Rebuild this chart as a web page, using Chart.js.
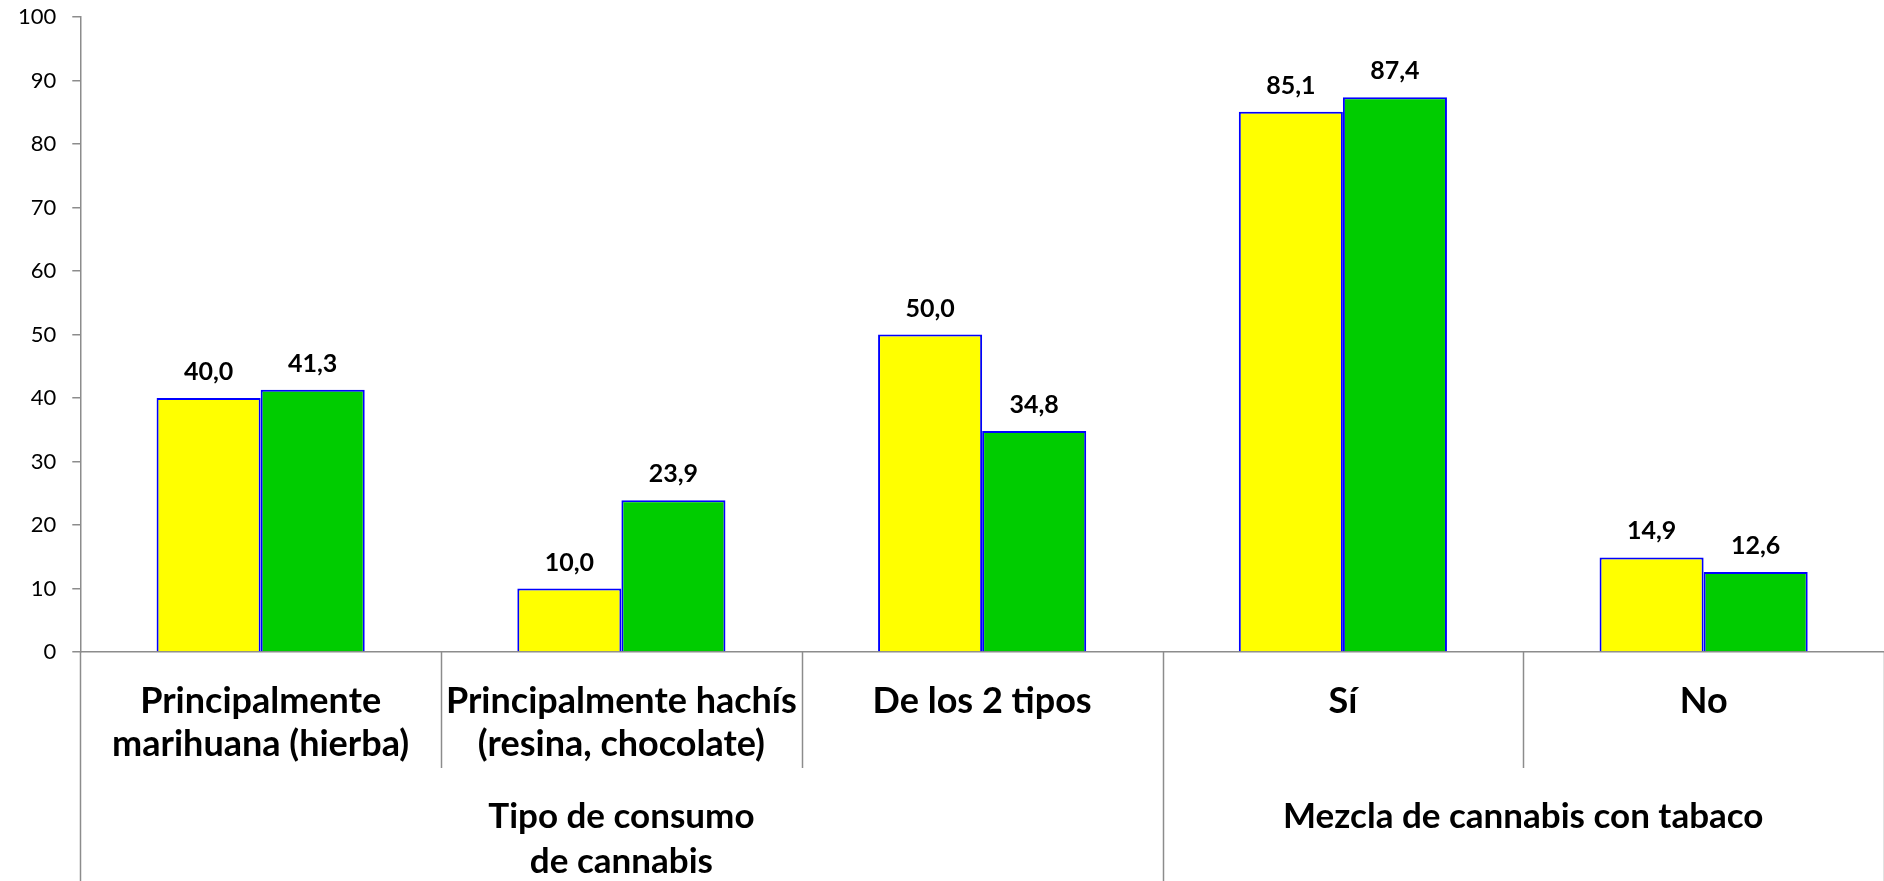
<!DOCTYPE html>
<html>
<head>
<meta charset="utf-8">
<script src="https://cdn.jsdelivr.net/npm/chart.js@4"></script>
<style>
  html, body { margin: 0; padding: 0; background: #fff; overflow: hidden; }
  #wrap { width: 1884px; height: 893px; position: relative; margin-top: -12px; }
</style>
</head>
<body>
<div id="wrap"><canvas id="chart"></canvas></div>
<script>
// Data
const categories = [
    ['Principalmente', 'marihuana (hierba)'],
    ['Principalmente hachís', '(resina, chocolate)'],
    ['De los 2 tipos'],
    ['Sí'],
    ['No']
];
const groups = [
    { label: ['Tipo de consumo', 'de cannabis'], from: 0, to: 2 },
    { label: ['Mezcla de cannabis con tabaco'], from: 3, to: 4 }
];
const seriesA = [40.0, 10.0, 50.0, 85.1, 14.9];
const seriesB = [41.3, 23.9, 34.8, 87.4, 12.6];
const yTicks = [0, 10, 20, 30, 40, 50, 60, 70, 80, 90, 100];

const FONT = 'Lato, "Open Sans", sans-serif';
const AXIS_GREY = '#8c8c8c';

// Value labels, category labels and the two-level separators
const hierarchyPlugin = {
    id: 'hierarchy',
    afterDatasetsDraw(chart) {
        const ctx = chart.ctx;
        ctx.save();
        ctx.fillStyle = '#000';
        ctx.textAlign = 'center';
        ctx.textBaseline = 'middle';
        ctx.font = 'bold 25px ' + FONT;
        chart.data.datasets.forEach((ds, di) => {
            const meta = chart.getDatasetMeta(di);
            meta.data.forEach((bar, i) => {
                ctx.fillText(ds.data[i].toFixed(1).replace('.', ','), bar.x, bar.y - 26);
            });
        });
        ctx.restore();
    },
    afterDraw(chart) {
        const ctx = chart.ctx;
        const x = chart.scales.x;
        const area = chart.chartArea;
        const n = categories.length;
        const step = (x.right - x.left) / n;
        const edge = i => x.getPixelForValue(i) - step / 2;
        const bottom = chart.height;
        const midLine = area.bottom + 116;

        ctx.save();
        ctx.strokeStyle = AXIS_GREY;
        ctx.lineWidth = 1.5;
        // separators between categories
        for (let i = 0; i <= n; i++) {
            const px = Math.round(edge(i)) + 0.5;
            const isGroupEdge = groups.some(g => g.from === i) || i === n;
            ctx.beginPath();
            ctx.moveTo(px, area.bottom);
            ctx.lineTo(px, isGroupEdge ? bottom : midLine);
            ctx.stroke();
        }

        // category labels
        ctx.fillStyle = '#000';
        ctx.textAlign = 'center';
        ctx.textBaseline = 'middle';
        ctx.font = 'bold 36px ' + FONT;
        categories.forEach((lines, i) => {
            const cx = x.getPixelForValue(i);
            lines.forEach((t, j) => ctx.fillText(t, cx, area.bottom + 49 + j * 43));
        });

        // group labels
        ctx.font = 'bold 35px ' + FONT;
        groups.forEach(g => {
            const cx = (edge(g.from) + edge(g.to + 1)) / 2;
            g.label.forEach((t, j) => ctx.fillText(t, cx, area.bottom + 165 + j * 45));
        });
        ctx.restore();
    }
};

new Chart(document.getElementById('chart'), {
    type: 'bar',
    data: {
        labels: categories.map(c => c.join(' ')),
        datasets: [
            {
                label: 'Serie 1',
                data: seriesA,
                backgroundColor: '#ffff00',
                borderColor: '#0000ff',
                borderWidth: 2,
                borderSkipped: 'bottom'
            },
            {
                label: 'Serie 2',
                data: seriesB,
                backgroundColor: '#00cc00',
                borderColor: '#0000ff',
                borderWidth: 2,
                borderSkipped: 'bottom'
            }
        ]
    },
    options: {
        responsive: true,
        maintainAspectRatio: false,
        animation: false,
        layout: { padding: { top: 0, right: 0, bottom: 221, left: 2 } },
        datasets: {
            bar: { categoryPercentage: 0.577, barPercentage: 1.0 }
        },
        plugins: {
            legend: { display: false },
            tooltip: { enabled: false }
        },
        scales: {
            x: {
                ticks: { display: false },
                grid: { display: false },
                border: { color: AXIS_GREY, width: 1.5 }
            },
            y: {
                min: 0,
                max: 100,
                afterBuildTicks: axis => { axis.ticks = yTicks.map(v => ({ value: v })); },
                ticks: {
                    color: '#000',
                    font: { family: FONT, size: 22 },
                    padding: 16
                },
                grid: {
                    drawOnChartArea: false,
                    color: AXIS_GREY,
                    lineWidth: 1.5,
                    tickLength: 8
                },
                border: { color: AXIS_GREY, width: 1.5 }
            }
        }
    },
    plugins: [hierarchyPlugin]
});
</script>
</body>
</html>
